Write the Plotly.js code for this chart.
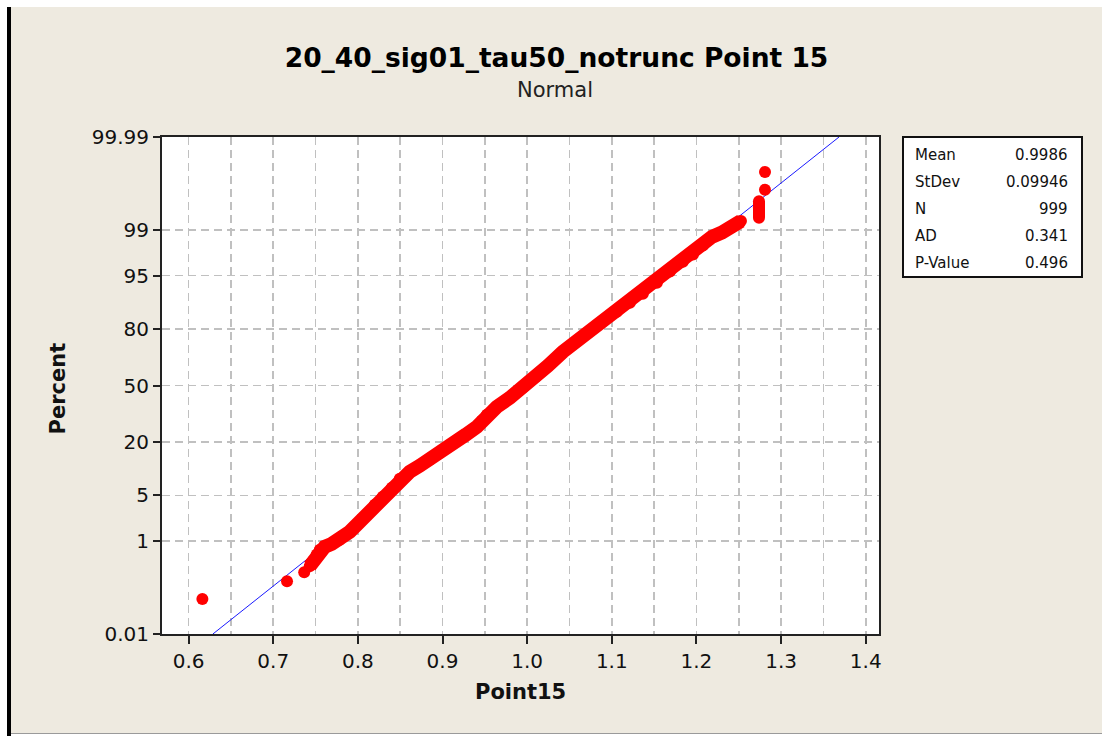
<!DOCTYPE html>
<html><head><meta charset="utf-8">
<script src="https://cdn.plot.ly/plotly-3.0.1.min.js"></script>
<style>
html,body{margin:0;padding:0;background:#fff;width:1102px;height:736px;overflow:hidden;}
#bar{position:absolute;left:7px;top:7px;width:4px;height:729px;background:#000;}
#chart{position:absolute;left:11px;top:7px;width:1091px;height:726px;}
#bline{position:absolute;left:11px;top:733px;width:1091px;height:1px;background:#9a9a9a;}
</style></head>
<body><div id="bar"></div><div id="chart"></div><div id="bline"></div>
<script>
// ---- data ----
const chartTitle = "20_40_sig01_tau50_notrunc Point 15";
const chartSubtitle = "Normal";
const xTitle = "Point15";
const yTitle = "Percent";

// main continuous band of points (Point15 value, percent)
const bandX = [0.7431,0.7479,0.7514,0.7550,0.7609,0.7691,0.7786,0.7904,0.7999,0.8105,0.8200,0.8294,0.8401,0.8495,0.8613,0.8732,0.8850,0.8968,0.9122,0.9276,0.9405,0.9465,0.9524,0.9642,0.9796,0.9949,1.0103,1.0245,1.0422,1.0588,1.0741,1.0895,1.1060,1.1214,1.1367,1.1533,1.1687,1.1840,1.1959,1.2077,1.2184,1.2302,1.2420,1.2526];
const bandPct = [0.34,0.44,0.57,0.70,0.79,0.89,1.05,1.43,1.93,2.66,3.71,4.80,6.30,8.14,9.84,11.5,13.3,15.7,19.2,23.1,26.8,29.9,33.1,37.5,42.7,48.6,55.2,61.6,69.3,74.8,79.3,83.4,86.5,89.2,91.5,93.8,95.6,96.8,97.5,98.2,98.7,98.9,99.12,99.31];
// stacked cluster of ties near the top
const columnX = [1.2739,1.2739,1.2739,1.2739];
const columnPct = [99.40,99.51,99.62,99.71];
// isolated points
const tailX = [0.6163,0.7163,0.7366,1.2810,1.2810];
const tailPct = [0.07,0.17,0.26,99.83,99.93];

// fitted normal line
const fitMean = 0.9986;
const fitStDev = 0.09946;
const fitPct = [0.01, 99.99];

// stats table
const statLabels = ["Mean","StDev","N","AD","P-Value"];
const statValues = ["0.9986","0.09946","999","0.341","0.496"];

// axis ticks
const yTickPct = [0.01,1,5,20,50,80,95,99,99.99];
const yTickText = ["0.01","1","5","20","50","80","95","99","99.99"];
const xTickVals = [0.6,0.7,0.8,0.9,1.0,1.1,1.2,1.3,1.4];

// ---- normal probability scale ----
function normInv(p){
  const a=[-3.969683028665376e+01,2.209460984245205e+02,-2.759285104469687e+02,1.383577518672690e+02,-3.066479806614716e+01,2.506628277459239e+00];
  const b=[-5.447609879822406e+01,1.615858368580409e+02,-1.556989798598866e+02,6.680131188771972e+01,-1.328068155288572e+01];
  const c=[-7.784894002430293e-03,-3.223964580411365e-01,-2.400758277161838e+00,-2.549732539343734e+00,4.374664141464968e+00,2.938163982698783e+00];
  const d=[7.784695709041462e-03,3.224671290700398e-01,2.445134137142996e+00,3.754408661907416e+00];
  const pl=0.02425, ph=1-pl; let q,r;
  if(p<pl){q=Math.sqrt(-2*Math.log(p));return (((((c[0]*q+c[1])*q+c[2])*q+c[3])*q+c[4])*q+c[5])/((((d[0]*q+d[1])*q+d[2])*q+d[3])*q+1);}
  if(p<=ph){q=p-0.5;r=q*q;return (((((a[0]*r+a[1])*r+a[2])*r+a[3])*r+a[4])*r+a[5])*q/(((((b[0]*r+b[1])*r+b[2])*r+b[3])*r+b[4])*r+1);}
  q=Math.sqrt(-2*Math.log(1-p));return -(((((c[0]*q+c[1])*q+c[2])*q+c[3])*q+c[4])*q+c[5])/((((d[0]*q+d[1])*q+d[2])*q+d[3])*q+1);
}
const zOf = p => normInv(p/100);

const RED = '#ff0000';
const FONT = 'DejaVu Sans';
const GRID = '#c0c0c0';

const traces = [
  { x: fitPct.map(p => fitMean + fitStDev*zOf(p)), y: fitPct.map(zOf), mode:'lines',
    line:{color:'#1a1aff', width:1}, hoverinfo:'skip' },
  { x: bandX, y: bandPct.map(zOf), mode:'lines+markers',
    line:{color:RED, width:14}, marker:{color:RED, size:12}, hoverinfo:'skip' },
  { x: columnX, y: columnPct.map(zOf), mode:'lines+markers',
    line:{color:RED, width:12}, marker:{color:RED, size:12}, hoverinfo:'skip' },
  { x: tailX, y: tailPct.map(zOf), mode:'markers',
    marker:{color:RED, size:12}, hoverinfo:'skip' }
];

const zLo = zOf(0.01), zHi = zOf(99.99);

const annotations = [
  { text: chartSubtitle, xref:'paper', yref:'paper', x:0.548, y:1, yshift:47,
    xanchor:'center', yanchor:'middle', showarrow:false, font:{family:FONT, size:21, color:'#222'} },
  { text: '<b>'+xTitle+'</b>', xref:'paper', yref:'paper', x:0.5, y:0, yshift:-58,
    xanchor:'center', yanchor:'middle', showarrow:false, font:{family:FONT, size:21, color:'#111'} },
  { text: '<b>'+yTitle+'</b>', xref:'paper', yref:'paper', x:0, y:0.5, xshift:-105, yshift:-3, textangle:-90,
    xanchor:'center', yanchor:'middle', showarrow:false, font:{family:FONT, size:21, color:'#111'} }
];
const rowY = [-18,-45,-72,-99,-126];
statLabels.forEach((s,i)=>{
  annotations.push({ text:s, xref:'paper', yref:'paper', x:1, y:1, xshift:34, yshift:rowY[i],
    xanchor:'left', yanchor:'middle', showarrow:false, font:{family:FONT, size:15, color:'#111'} });
  annotations.push({ text:statValues[i], xref:'paper', yref:'paper', x:1, y:1, xshift:191, yshift:rowY[i],
    xanchor:'right', yanchor:'middle', showarrow:false, font:{family:FONT, size:15, color:'#111'} });
});

const layout = {
  width:1091, height:726,
  paper_bgcolor:'#EEEAE0', plot_bgcolor:'#ffffff',
  margin:{l:151, r:223, t:130, b:99},
  showlegend:false,
  title:{ text:chartTitle, x:0.5, xref:'container', y:1-51/726, yref:'container', yanchor:'middle', xanchor:'center',
    font:{family:FONT, size:26.5, weight:'bold', color:'#000'} },
  xaxis:{ range:[0.5686,1.4157], tickmode:'array', tickvals:xTickVals, tickformat:'.1f',
    ticks:'outside', ticklen:8, tickwidth:2, tickcolor:'#222',
    showline:true, mirror:true, linecolor:'#222', linewidth:2,
    showgrid:true, gridcolor:GRID, gridwidth:1.6, griddash:'8px,5px', zeroline:false,
    minor:{dtick:0.05, tick0:0.6, showgrid:true, gridcolor:GRID, gridwidth:1.6, griddash:'8px,5px', ticks:''},
    tickfont:{family:FONT, size:20, color:'#111'} },
  yaxis:{ range:[zLo,zHi], tickmode:'array', tickvals:yTickPct.map(zOf), ticktext:yTickText,
    ticks:'outside', ticklen:7, tickwidth:2, tickcolor:'#222',
    showline:true, mirror:true, linecolor:'#222', linewidth:2,
    showgrid:true, gridcolor:GRID, gridwidth:1.6, griddash:'8px,5px', zeroline:false,
    tickfont:{family:FONT, size:20, color:'#111'} },
  shapes:[
    { type:'rect', xref:'paper', yref:'paper', xsizemode:'pixel', ysizemode:'pixel',
      xanchor:1, yanchor:1, x0:24, x1:203, y0:0, y1:-140,
      line:{color:'#111', width:2}, fillcolor:'#ffffff', layer:'above' }
  ],
  annotations: annotations
};

Plotly.newPlot('chart', traces, layout, {staticPlot:true, displayModeBar:false});
</script></body></html>
